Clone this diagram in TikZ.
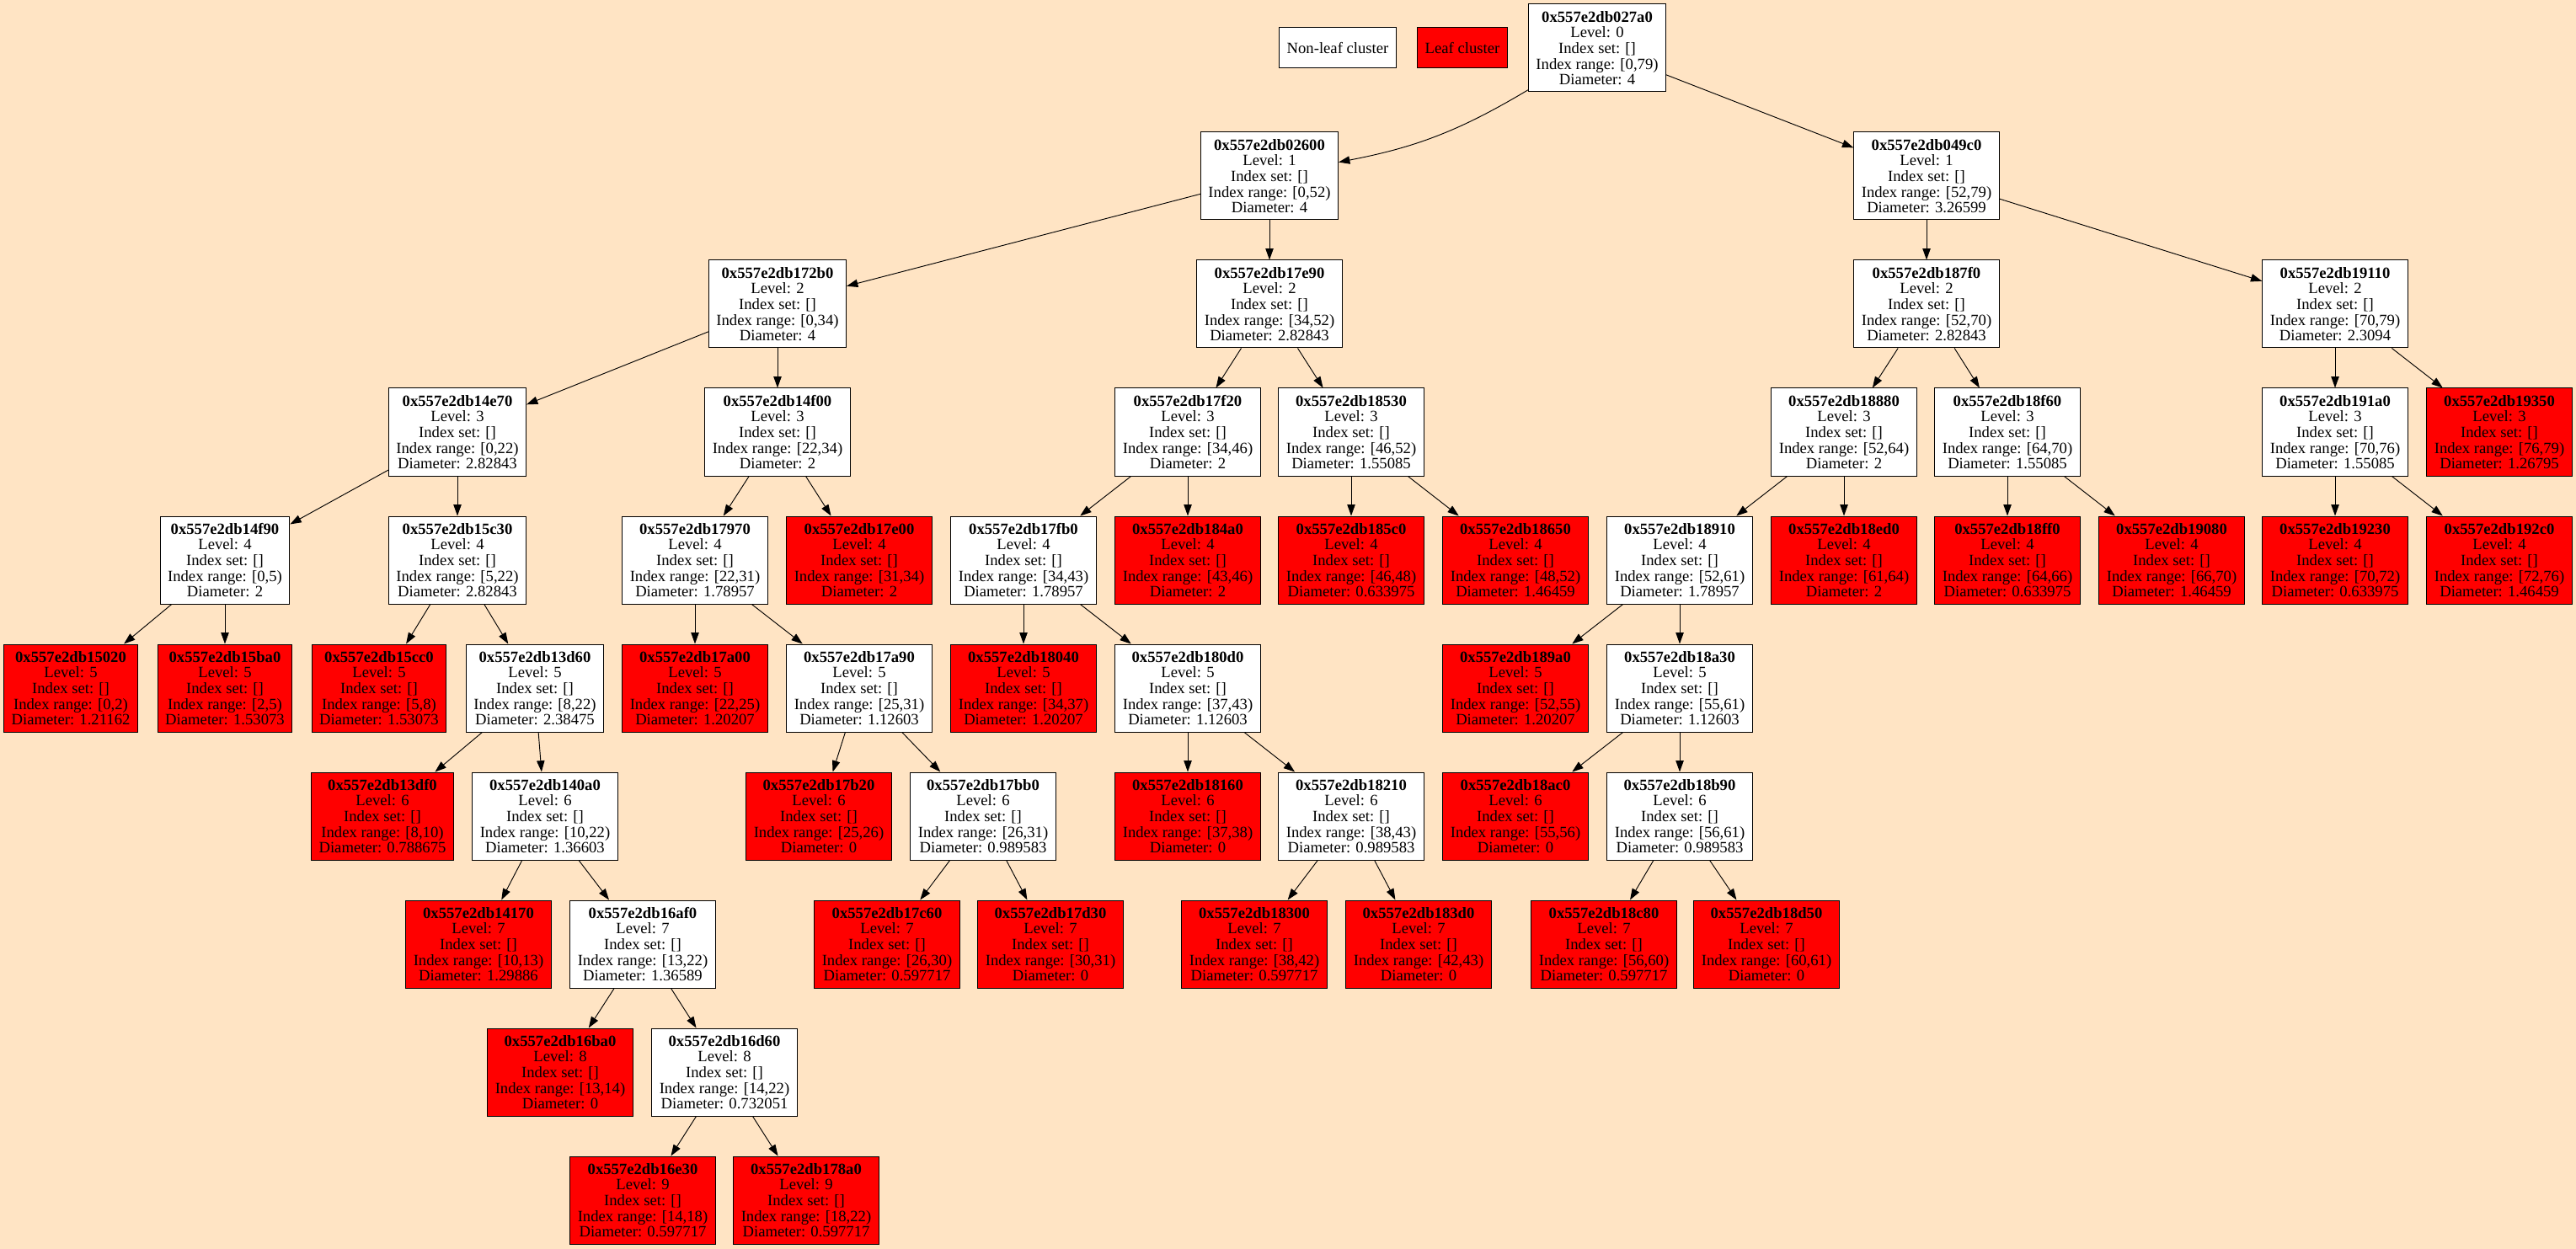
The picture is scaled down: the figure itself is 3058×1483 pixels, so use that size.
\documentclass[tikz,border=0pt]{standalone}
\usepackage{fontspec}
\setmainfont{Liberation Serif}
\usetikzlibrary{arrows.meta}
\definecolor{bisque}{HTML}{FFE4C4}
\definecolor{leafred}{HTML}{FF0000}
\newcommand\cl[6]{\node[#6] (n#1) at (#2,{57+152*#3}) {\textbf{0x557e2db#1}\\Level: #3\\Index set: []\\Index range: #4\\Diameter: #5};}
\begin{document}
\begin{tikzpicture}[x=0.75pt,y=-0.75pt,
  clbox/.style={draw=black, rectangle, align=center, minimum height=78pt, inner xsep=6.75pt, inner ysep=1pt, line width=0.75pt, font=\fontsize{14}{14}\selectfont},
  nl/.style={clbox, fill=white},
  lf/.style={clbox, fill=leafred},
  legbox/.style={draw=black, rectangle, minimum height=36pt, inner xsep=6.75pt, line width=0.75pt, font=\fontsize{14}{14}\selectfont},
  cedge/.style={-{Triangle[length=10pt,width=7pt]}, line width=0.7pt, black}]
\useasboundingbox (0,0) rectangle (3058,1483);
\fill[bisque] (0,0) rectangle (3058,1483);
% legend
\node[legbox, fill=white] (legnl) at (1588,57) {Non-leaf cluster};
\node[legbox, fill=leafred] (leglf) at (1736,57) {Leaf cluster};
% rank 0-2
\cl{027a0}{1896}{0}{[0,79)}{4}{nl}
\cl{02600}{1507}{1}{[0,52)}{4}{nl}
\cl{049c0}{2287}{1}{[52,79)}{3.26599}{nl}
\cl{172b0}{923}{2}{[0,34)}{4}{nl}
\cl{17e90}{1507}{2}{[34,52)}{2.82843}{nl}
\cl{187f0}{2287}{2}{[52,70)}{2.82843}{nl}
\cl{19110}{2772}{2}{[70,79)}{2.3094}{nl}
% rank 3
\cl{14e70}{543}{3}{[0,22)}{2.82843}{nl}
\cl{14f00}{923}{3}{[22,34)}{2}{nl}
\cl{17f20}{1410}{3}{[34,46)}{2}{nl}
\cl{18530}{1604}{3}{[46,52)}{1.55085}{nl}
\cl{18880}{2189}{3}{[52,64)}{2}{nl}
\cl{18f60}{2383}{3}{[64,70)}{1.55085}{nl}
\cl{191a0}{2772}{3}{[70,76)}{1.55085}{nl}
\cl{19350}{2967}{3}{[76,79)}{1.26795}{lf}
% rank 4
\cl{14f90}{267}{4}{[0,5)}{2}{nl}
\cl{15c30}{543}{4}{[5,22)}{2.82843}{nl}
\cl{17970}{825}{4}{[22,31)}{1.78957}{nl}
\cl{17e00}{1020}{4}{[31,34)}{2}{lf}
\cl{17fb0}{1215}{4}{[34,43)}{1.78957}{nl}
\cl{184a0}{1410}{4}{[43,46)}{2}{lf}
\cl{185c0}{1604}{4}{[46,48)}{0.633975}{lf}
\cl{18650}{1799}{4}{[48,52)}{1.46459}{lf}
\cl{18910}{1994}{4}{[52,61)}{1.78957}{nl}
\cl{18ed0}{2189}{4}{[61,64)}{2}{lf}
\cl{18ff0}{2383}{4}{[64,66)}{0.633975}{lf}
\cl{19080}{2578}{4}{[66,70)}{1.46459}{lf}
\cl{19230}{2772}{4}{[70,72)}{0.633975}{lf}
\cl{192c0}{2967}{4}{[72,76)}{1.46459}{lf}
% rank 5
\cl{15020}{84}{5}{[0,2)}{1.21162}{lf}
\cl{15ba0}{267}{5}{[2,5)}{1.53073}{lf}
\cl{15cc0}{450}{5}{[5,8)}{1.53073}{lf}
\cl{13d60}{635}{5}{[8,22)}{2.38475}{nl}
\cl{17a00}{825}{5}{[22,25)}{1.20207}{lf}
\cl{17a90}{1020}{5}{[25,31)}{1.12603}{nl}
\cl{18040}{1215}{5}{[34,37)}{1.20207}{lf}
\cl{180d0}{1410}{5}{[37,43)}{1.12603}{nl}
\cl{189a0}{1799}{5}{[52,55)}{1.20207}{lf}
\cl{18a30}{1994}{5}{[55,61)}{1.12603}{nl}
% rank 6
\cl{13df0}{454}{6}{[8,10)}{0.788675}{lf}
\cl{140a0}{647}{6}{[10,22)}{1.36603}{nl}
\cl{17b20}{972}{6}{[25,26)}{0}{lf}
\cl{17bb0}{1167}{6}{[26,31)}{0.989583}{nl}
\cl{18160}{1410}{6}{[37,38)}{0}{lf}
\cl{18210}{1604}{6}{[38,43)}{0.989583}{nl}
\cl{18ac0}{1799}{6}{[55,56)}{0}{lf}
\cl{18b90}{1994}{6}{[56,61)}{0.989583}{nl}
% rank 7
\cl{14170}{568}{7}{[10,13)}{1.29886}{lf}
\cl{16af0}{763}{7}{[13,22)}{1.36589}{nl}
\cl{17c60}{1053}{7}{[26,30)}{0.597717}{lf}
\cl{17d30}{1247}{7}{[30,31)}{0}{lf}
\cl{18300}{1489}{7}{[38,42)}{0.597717}{lf}
\cl{183d0}{1684}{7}{[42,43)}{0}{lf}
\cl{18c80}{1904}{7}{[56,60)}{0.597717}{lf}
\cl{18d50}{2097}{7}{[60,61)}{0}{lf}
% rank 8
\cl{16ba0}{665}{8}{[13,14)}{0}{lf}
\cl{16d60}{860}{8}{[14,22)}{0.732051}{nl}
% rank 9
\cl{16e30}{763}{9}{[14,18)}{0.597717}{lf}
\cl{178a0}{957}{9}{[18,22)}{0.597717}{lf}
% edges
\draw[cedge] (n027a0) to[bend left=10] (n02600);
\draw[cedge] (n027a0) -- (n049c0);
\draw[cedge] (n02600) -- (n172b0);
\draw[cedge] (n02600) -- (n17e90);
\draw[cedge] (n049c0) -- (n187f0);
\draw[cedge] (n049c0) -- (n19110);
\draw[cedge] (n172b0) -- (n14e70);
\draw[cedge] (n172b0) -- (n14f00);
\draw[cedge] (n17e90) -- (n17f20);
\draw[cedge] (n17e90) -- (n18530);
\draw[cedge] (n187f0) -- (n18880);
\draw[cedge] (n187f0) -- (n18f60);
\draw[cedge] (n19110) -- (n191a0);
\draw[cedge] (n19110) -- (n19350);
\draw[cedge] (n14e70) -- (n14f90);
\draw[cedge] (n14e70) -- (n15c30);
\draw[cedge] (n14f00) -- (n17970);
\draw[cedge] (n14f00) -- (n17e00);
\draw[cedge] (n17f20) -- (n17fb0);
\draw[cedge] (n17f20) -- (n184a0);
\draw[cedge] (n18530) -- (n185c0);
\draw[cedge] (n18530) -- (n18650);
\draw[cedge] (n18880) -- (n18910);
\draw[cedge] (n18880) -- (n18ed0);
\draw[cedge] (n18f60) -- (n18ff0);
\draw[cedge] (n18f60) -- (n19080);
\draw[cedge] (n191a0) -- (n19230);
\draw[cedge] (n191a0) -- (n192c0);
\draw[cedge] (n14f90) -- (n15020);
\draw[cedge] (n14f90) -- (n15ba0);
\draw[cedge] (n15c30) -- (n15cc0);
\draw[cedge] (n15c30) -- (n13d60);
\draw[cedge] (n17970) -- (n17a00);
\draw[cedge] (n17970) -- (n17a90);
\draw[cedge] (n17fb0) -- (n18040);
\draw[cedge] (n17fb0) -- (n180d0);
\draw[cedge] (n18910) -- (n189a0);
\draw[cedge] (n18910) -- (n18a30);
\draw[cedge] (n13d60) -- (n13df0);
\draw[cedge] (n13d60) -- (n140a0);
\draw[cedge] (n17a90) -- (n17b20);
\draw[cedge] (n17a90) -- (n17bb0);
\draw[cedge] (n180d0) -- (n18160);
\draw[cedge] (n180d0) -- (n18210);
\draw[cedge] (n18a30) -- (n18ac0);
\draw[cedge] (n18a30) -- (n18b90);
\draw[cedge] (n140a0) -- (n14170);
\draw[cedge] (n140a0) -- (n16af0);
\draw[cedge] (n17bb0) -- (n17c60);
\draw[cedge] (n17bb0) -- (n17d30);
\draw[cedge] (n18210) -- (n18300);
\draw[cedge] (n18210) -- (n183d0);
\draw[cedge] (n18b90) -- (n18c80);
\draw[cedge] (n18b90) -- (n18d50);
\draw[cedge] (n16af0) -- (n16ba0);
\draw[cedge] (n16af0) -- (n16d60);
\draw[cedge] (n16d60) -- (n16e30);
\draw[cedge] (n16d60) -- (n178a0);
\end{tikzpicture}
\end{document}
